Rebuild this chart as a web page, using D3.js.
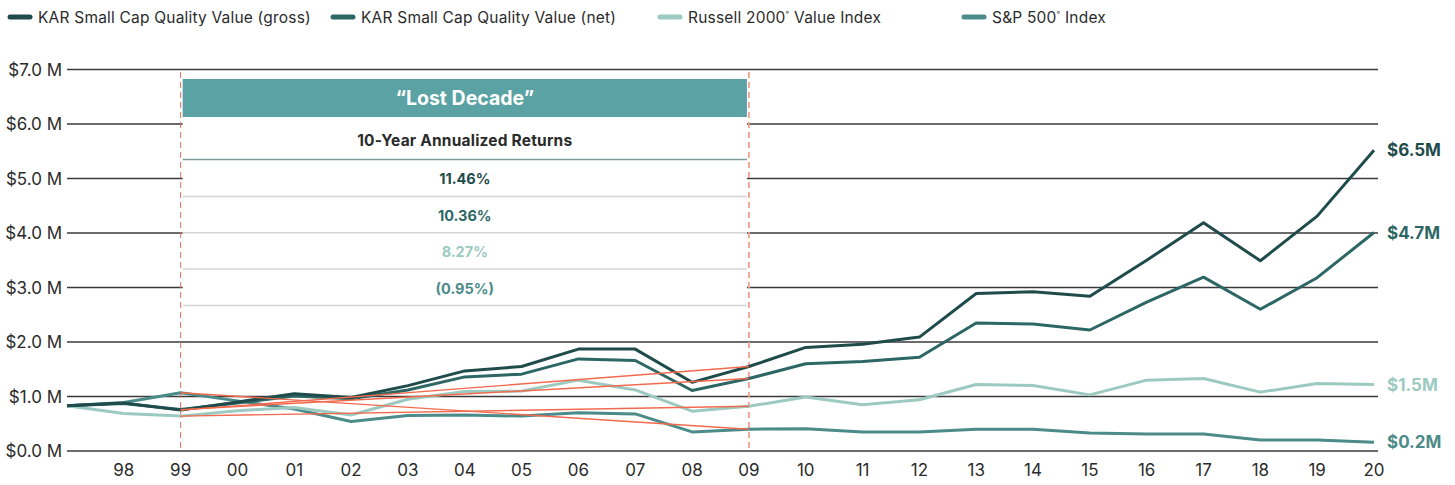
<!DOCTYPE html>
<html lang="en">
  <head>
    <meta charset="UTF-8" />
    <title>Lost Decade</title>
    <style>
      body { margin: 0; background: #fff; }
      text { font-family: Inter, "Noto Sans", sans-serif; }
    </style>
  </head>
  <body>
    <div class="chart"></div>
    <script src="https://d3js.org/d3.v7.min.js"></script>
    <script>
      const width = 1455;
      const height = 485;

      // data (axis units, $M)
      const years = [1997, 1998, 1999, 2000, 2001, 2002, 2003, 2004, 2005, 2006, 2007, 2008, 2009, 2010, 2011, 2012, 2013, 2014, 2015, 2016, 2017, 2018, 2019, 2020];
      const tickLabels = ["98", "99", "00", "01", "02", "03", "04", "05", "06", "07", "08", "09", "10", "11", "12", "13", "14", "15", "16", "17", "18", "19", "20"];
      const gross = [0.83, 0.88, 0.75, 0.9, 1.05, 0.98, 1.2, 1.47, 1.55, 1.87, 1.87, 1.26, 1.55, 1.9, 1.96, 2.09, 2.89, 2.92, 2.84, 3.5, 4.19, 3.49, 4.31, 5.52];
      const net = [0.83, 0.87, 0.76, 0.88, 1.01, 0.96, 1.12, 1.36, 1.41, 1.69, 1.66, 1.11, 1.33, 1.6, 1.64, 1.72, 2.35, 2.33, 2.22, 2.73, 3.19, 2.6, 3.18, 4.01];
      const russell = [0.83, 0.69, 0.64, 0.74, 0.8, 0.66, 0.95, 1.09, 1.1, 1.3, 1.12, 0.73, 0.82, 0.99, 0.85, 0.94, 1.22, 1.2, 1.03, 1.3, 1.33, 1.08, 1.24, 1.22];
      const sp500 = [0.83, 0.89, 1.07, 0.92, 0.77, 0.54, 0.65, 0.66, 0.64, 0.7, 0.68, 0.35, 0.4, 0.41, 0.35, 0.35, 0.4, 0.4, 0.33, 0.31, 0.31, 0.2, 0.2, 0.16];
      const seriesNames = ["KAR Small Cap Quality Value (gross)", "KAR Small Cap Quality Value (net)", "Russell 2000", "S&P 500"];
      const nameTails = ["", "", " Value Index", " Index"];
      const returns = ["11.46%", "10.36%", "8.27%", "(0.95%)"];
      const endLabels = ["$6.5M", "$4.7M", "$1.5M", "$0.2M"];
      const yTicks = [0, 1, 2, 3, 4, 5, 6, 7];
      const decade = [1999, 2009];

      const colors = ["#1f4b4b", "#2d6765", "#9ccac1", "#4b8b89"];
      const allSeries = [gross, net, russell, sp500];

      const x = d3.scaleLinear().domain([1997, 2020]).range([67, 1374]);
      const y = d3.scaleLinear().domain([0, 7]).range([451, 69.5]);

      const svg = d3
        .select(".chart")
        .append("svg")
        .attr("width", width)
        .attr("height", height);

      // 格線
      svg
        .append("g")
        .selectAll("line")
        .data(yTicks)
        .join("line")
        .attr("x1", 67)
        .attr("x2", 1378)
        .attr("y1", (d) => y(d))
        .attr("y2", (d) => y(d))
        .attr("stroke", "#3a3a3a")
        .attr("stroke-width", 1.5);

      svg
        .append("g")
        .selectAll("text")
        .data(yTicks)
        .join("text")
        .attr("x", 62)
        .attr("y", (d) => y(d))
        .attr("dy", "0.36em")
        .attr("text-anchor", "end")
        .attr("font-size", 17)
        .attr("fill", "#2b2b2b")
        .text((d) => "$" + d.toFixed(1) + " M");

      // x labels
      svg
        .append("g")
        .selectAll("text")
        .data(tickLabels)
        .join("text")
        .attr("x", (d, i) => x(years[i + 1]))
        .attr("y", 470)
        .attr("dy", "0.36em")
        .attr("text-anchor", "middle")
        .attr("font-size", 17)
        .attr("fill", "#2b2b2b")
        .text((d) => d);

      // Lost Decade box
      const bx0 = x(decade[0]) + 2;
      const bx1 = x(decade[1]) - 2;
      const box = svg.append("g");
      box
        .append("rect")
        .attr("x", bx0)
        .attr("y", 79)
        .attr("width", bx1 - bx0)
        .attr("height", 227)
        .attr("fill", "#fff");
      box
        .append("rect")
        .attr("x", bx0)
        .attr("y", 79)
        .attr("width", bx1 - bx0)
        .attr("height", 38)
        .attr("fill", "#5aa2a3");
      box
        .append("text")
        .attr("x", (bx0 + bx1) / 2)
        .attr("y", 98)
        .attr("dy", "0.36em")
        .attr("text-anchor", "middle")
        .attr("font-size", 19.5)
        .attr("font-weight", 700)
        .attr("fill", "#fff")
        .text("\u201CLost Decade\u201D");
      box
        .append("text")
        .attr("x", (bx0 + bx1) / 2)
        .attr("y", 140)
        .attr("dy", "0.36em")
        .attr("text-anchor", "middle")
        .attr("font-size", 15.5)
        .attr("font-weight", 700)
        .attr("letter-spacing", 0.2)
        .attr("fill", "#2b2b2b")
        .text("10-Year Annualized Returns");
      box
        .append("line")
        .attr("x1", bx0)
        .attr("x2", bx1)
        .attr("y1", 159.5)
        .attr("y2", 159.5)
        .attr("stroke", "#7f9c9c")
        .attr("stroke-width", 1.5);
      box
        .selectAll(".ret")
        .data(returns)
        .join("text")
        .attr("class", "ret")
        .attr("x", (bx0 + bx1) / 2)
        .attr("y", (d, i) => 179 + i * 36.5)
        .attr("dy", "0.36em")
        .attr("text-anchor", "middle")
        .attr("font-size", 14.5)
        .attr("font-weight", 700)
        .attr("fill", (d, i) => colors[i])
        .text((d) => d);
      box
        .selectAll(".sep")
        .data(returns)
        .join("line")
        .attr("class", "sep")
        .attr("x1", bx0)
        .attr("x2", bx1)
        .attr("y1", (d, i) => 196.5 + i * 36.3)
        .attr("y2", (d, i) => 196.5 + i * 36.3)
        .attr("stroke", "#d4d4d4")
        .attr("stroke-width", 1.5);

      // dashed decade markers
      svg
        .append("g")
        .selectAll("line")
        .data(decade)
        .join("line")
        .attr("x1", (d) => x(d))
        .attr("x2", (d) => x(d))
        .attr("y1", 72)
        .attr("y2", 451)
        .attr("stroke", (d, i) => (i === 0 ? "#e2705a" : "#f3a28e"))
        .attr("stroke-width", (d, i) => (i === 0 ? 1 : 1.8))
        .attr("stroke-dasharray", "6,4");

      // series lines
      const line = d3
        .line()
        .x((d, i) => x(years[i]))
        .y((d) => y(d));

      svg
        .append("g")
        .selectAll("path")
        .data(allSeries.slice().reverse())
        .join("path")
        .attr("d", line)
        .attr("fill", "none")
        .attr("stroke", (d, i) => colors[3 - i])
        .attr("stroke-width", 3)
        .attr("stroke-linejoin", "round");

      // orange 10-year lines
      const i0 = years.indexOf(decade[0]);
      const i1 = years.indexOf(decade[1]);
      svg
        .append("g")
        .selectAll("line")
        .data(allSeries)
        .join("line")
        .attr("x1", x(decade[0]))
        .attr("x2", x(decade[1]))
        .attr("y1", (d) => y(d[i0]))
        .attr("y2", (d) => y(d[i1]))
        .attr("stroke", "#f26a4d")
        .attr("stroke-width", 1.4);

      // end labels
      svg
        .append("g")
        .selectAll("text")
        .data(allSeries)
        .join("text")
        .attr("x", 1387)
        .attr("y", (d) => y(d[d.length - 1]))
        .attr("dy", "0.36em")
        .attr("font-size", 17)
        .attr("font-weight", 700)
        .attr("fill", (d, i) => colors[i])
        .text((d, i) => endLabels[i]);

      // legend
      const legendX = [8, 331, 658, 962];
      const legend = svg
        .append("g")
        .selectAll("g")
        .data(seriesNames)
        .join("g")
        .attr("transform", (d, i) => `translate(${legendX[i]},17)`);
      legend
        .append("line")
        .attr("x1", 2)
        .attr("x2", 22)
        .attr("stroke", (d, i) => colors[i])
        .attr("stroke-width", 5)
        .attr("stroke-linecap", "round");
      const lt = legend
        .append("text")
        .attr("x", 30)
        .attr("y", 5.5)
        .attr("font-size", 15.5)
        .attr("letter-spacing", 0.2)
        .attr("fill", "#2b2b2b");
      lt.append("tspan").text((d) => d);
      lt.filter((d, i) => i >= 2)
        .append("tspan")
        .attr("font-size", 8)
        .attr("dy", -6)
        .text("\u00B0");
      lt.filter((d, i) => i >= 2)
        .append("tspan")
        .attr("dy", 6)
        .text((d) => nameTails[seriesNames.indexOf(d)]);
    </script>
  </body>
</html>
